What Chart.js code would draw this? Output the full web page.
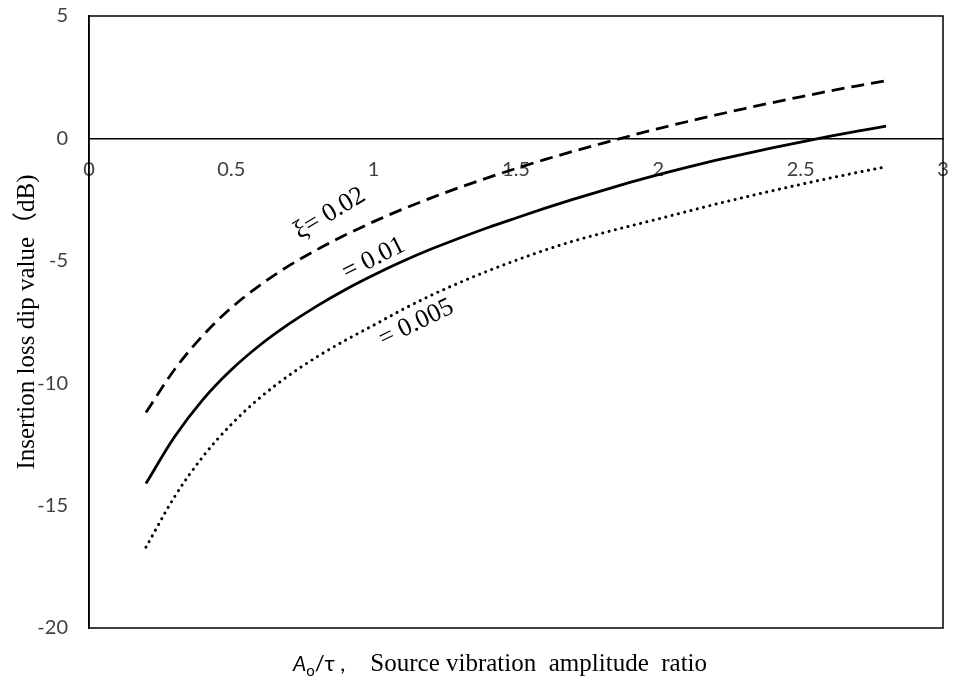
<!DOCTYPE html>
<html>
<head>
<meta charset="utf-8">
<script src="https://cdn.jsdelivr.net/npm/chart.js@4.4.1/dist/chart.umd.min.js"></script>
<style>
  html, body { margin: 0; padding: 0; background: #fff; }
</style>
</head>
<body>
<canvas id="c" width="954" height="683"></canvas>
<script>
// Source vibration amplitude ratio A0/τ (x) vs insertion loss dip (dB)
const ratio = [0.2, 0.3, 0.4, 0.5, 0.6, 0.7, 0.8, 0.9, 1.0, 1.1, 1.2, 1.3, 1.4,
  1.5, 1.6, 1.7, 1.8, 1.9, 2.0, 2.1, 2.2, 2.3, 2.4, 2.5, 2.6, 2.7, 2.8];
const xi002 = [-11.2, -9.45, -8.05, -6.92, -6.0, -5.22, -4.55, -3.95, -3.4, -2.9,
  -2.44, -2.01, -1.61, -1.23, -0.87, -0.53, -0.21, 0.1, 0.4, 0.68, 0.95, 1.21,
  1.46, 1.7, 1.93, 2.15, 2.36];
const xi001 = [-14.1, -12.2, -10.67, -9.45, -8.45, -7.6, -6.85, -6.18, -5.58, -5.03,
  -4.53, -4.08, -3.65, -3.25, -2.86, -2.49, -2.14, -1.8, -1.48, -1.18, -0.9,
  -0.64, -0.39, -0.15, 0.08, 0.3, 0.5];
const xi0005 = [-16.7, -14.65, -13.0, -11.68, -10.6, -9.7, -8.93, -8.25, -7.63, -7.0,
  -6.42, -5.9, -5.42, -4.98, -4.57, -4.2, -3.88, -3.58, -3.29, -2.99, -2.69,
  -2.41, -2.14, -1.88, -1.63, -1.39, -1.16];
const xTicks = [0, 0.5, 1, 1.5, 2, 2.5, 3];
const yTicks = [5, 0, -5, -10, -15, -20];
const curveNames = ['ξ= 0.02', '= 0.01', '= 0.005'];

const SERIF = '"Liberation Serif", "Times New Roman", serif';
const SANS = 'Lato, "Open Sans", sans-serif';

const pts = (ys) => ratio.map((x, i) => ({ x, y: ys[i] }));
// labels may hang over the box, don't let them shrink the plot
const noPad = (s) => { s.paddingLeft = s.paddingRight = s.paddingTop = s.paddingBottom = 0; };

// box round the plot area
const frame = {
  id: 'frame',
  afterDraw(chart) {
    const { ctx, chartArea: a } = chart;
    ctx.save();
    ctx.strokeStyle = '#000';
    ctx.lineWidth = 1.5;
    ctx.strokeRect(a.left, a.top, a.right - a.left, a.bottom - a.top);
    ctx.restore();
  },
};

// rotated curve names, anchored in data units
const curveLabels = {
  id: 'curveLabels',
  afterDatasetsDraw(chart) {
    const { ctx, scales: { x, y } } = chart;
    const anchors = [[0.846, -3.07, -31], [1.0, -4.92, -27], [1.15, -7.55, -26]];
    ctx.save();
    ctx.fillStyle = '#000';
    ctx.font = '26px ' + SERIF;
    ctx.textAlign = 'center';
    ctx.textBaseline = 'middle';
    anchors.forEach(([ax, ay, deg], i) => {
      ctx.save();
      ctx.translate(x.getPixelForValue(ax), y.getPixelForValue(ay));
      ctx.rotate(deg * Math.PI / 180);
      ctx.fillText(curveNames[i], 0, 0);
      ctx.restore();
    });
    ctx.restore();
  },
};

// x title with italic A, subscript o, then serif words
const xTitle = {
  id: 'xTitle',
  afterDraw(chart) {
    const { ctx, chartArea: a } = chart;
    const parts = [
      ['A', 'italic 21px ' + SANS, 0],
      ['o', '15px ' + SANS, 5],
      ['/τ ,', '22px ' + SANS, 0],
      ['    Source vibration  amplitude  ratio', '25px ' + SERIF, 0],
    ];
    ctx.save();
    ctx.fillStyle = '#000';
    ctx.textBaseline = 'alphabetic';
    let total = 0;
    parts.forEach(([t, f]) => { ctx.font = f; total += ctx.measureText(t).width; });
    let px = (a.left + a.right) / 2 - 16 - total / 2;
    const base = a.bottom + 43;
    parts.forEach(([t, f, dy]) => {
      ctx.font = f;
      ctx.fillText(t, px, base + dy);
      px += ctx.measureText(t).width;
    });
    ctx.restore();
  },
};

new Chart(document.getElementById('c'), {
  type: 'line',
  data: {
    datasets: [
      { label: 'ξ=0.02', data: pts(xi002), borderColor: '#000', borderWidth: 2.8,
        borderDash: [13, 7], pointRadius: 0, cubicInterpolationMode: 'monotone' },
      { label: 'ξ=0.01', data: pts(xi001), borderColor: '#000', borderWidth: 2.8,
        pointRadius: 0, cubicInterpolationMode: 'monotone' },
      { label: 'ξ=0.005', data: pts(xi0005), borderColor: '#000', borderWidth: 3,
        borderDash: [0.1, 6.4], borderCapStyle: 'round', pointRadius: 0,
        cubicInterpolationMode: 'monotone' },
    ],
  },
  options: {
    responsive: false, animation: false,
    layout: { padding: { left: 0, top: 16, right: 11, bottom: 55 } },
    plugins: { legend: { display: false }, tooltip: { enabled: false } },
    scales: {
      x: {
        type: 'linear', min: 0, max: 3, position: { y: 0 },
        afterBuildTicks: (s) => { s.ticks = xTicks.map(v => ({ value: v })); },
        afterFit: noPad,
        grid: { display: false, drawTicks: false },
        border: { color: '#000', width: 1.5 },
        ticks: { color: '#404040', font: { family: SANS, size: 20 }, padding: 19,
          maxRotation: 0, callback: (v) => String(v) },
      },
      y: {
        type: 'linear', min: -20, max: 5, position: 'left',
        afterBuildTicks: (s) => { s.ticks = yTicks.map(v => ({ value: v })); },
        afterFit: (s) => { noPad(s); s.width = 89; },
        grid: { display: false, drawTicks: false },
        border: { color: '#000', width: 1.5 },
        ticks: { color: '#404040', font: { family: SANS, size: 20 }, padding: 21,
          callback: (v) => String(v) },
        title: {
          display: true, text: 'Insertion loss dip value（dB)', color: '#000',
          font: { family: SERIF + ', "Noto Sans CJK SC"', size: 25 }, padding: { top: 12, bottom: 0 },
        },
      },
    },
  },
  plugins: [frame, curveLabels, xTitle],
});
</script>
</body>
</html>
